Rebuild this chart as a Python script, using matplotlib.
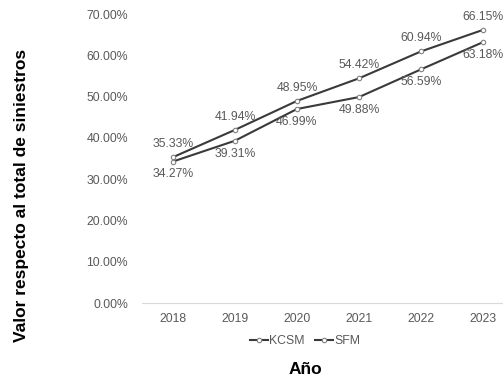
import matplotlib.pyplot as plt

plt.rcParams['font.family'] = ['Liberation Sans', 'DejaVu Sans']

# Share of total claims per year
years = ['2018', '2019', '2020', '2021', '2022', '2023']
kcsm = [35.33, 41.94, 48.95, 54.42, 60.94, 66.15]
sfm = [34.27, 39.31, 46.99, 49.88, 56.59, 63.18]
yticks = [0, 10, 20, 30, 40, 50, 60, 70]

W, H = 503, 385
fig = plt.figure(figsize=(W / 100, H / 100), dpi=100)
ax = fig.add_axes([142 / W, 82 / H, (514 - 142) / W, (303 - 14) / H])

x = range(len(years))
line_kw = dict(color='#3a3a3a', linewidth=1.5, marker='o', markersize=3.2,
               markerfacecolor='white', markeredgecolor='#808080',
               markeredgewidth=0.8)
ax.plot(x, kcsm, label='KCSM', **line_kw)
ax.plot(x, sfm, label='SFM', **line_kw)

label_kw = dict(ha='center', fontsize=8.8, color='#595959',
                textcoords='offset points')
for xi, v in zip(x, kcsm):
    ax.annotate(f'{v:.2f}%', (xi, v), xytext=(0, 5), va='bottom', **label_kw)
for xi, v in zip(x, sfm):
    ax.annotate(f'{v:.2f}%', (xi, v), xytext=(0, -5), va='top', **label_kw)

ax.set_xlim(-0.5, 5.5)
ax.set_ylim(0, 70)
ax.set_xticks(list(x))
ax.set_xticklabels(years)
ax.set_yticks(yticks)
ax.set_yticklabels([f'{t:.2f}%' for t in yticks])
ax.tick_params(length=0, labelsize=8.8, colors='#595959')
ax.tick_params(axis='x', pad=7)
ax.tick_params(axis='y', pad=10)
for side in ['top', 'right', 'left']:
    ax.spines[side].set_visible(False)
ax.spines['bottom'].set_color('#d9d9d9')
ax.spines['bottom'].set_linewidth(0.8)

leg = ax.legend(loc='center', bbox_to_anchor=(305 / W, 1 - 341 / H),
                bbox_transform=fig.transFigure, ncol=2, frameon=False,
                fontsize=8.8, handlelength=1.5, handletextpad=0.1,
                columnspacing=0.8, borderaxespad=0, borderpad=0)
for t in leg.get_texts():
    t.set_color('#595959')

fig.text(22 / W, 1 - 195 / H, 'Valor respecto al total de siniestros',
         rotation=90, ha='center', va='center', fontsize=12.5,
         fontweight='bold', color='black')
fig.text(305 / W, 1 - 370 / H, 'Año', ha='center', va='center',
         fontsize=12.5, fontweight='bold', color='black')

fig.savefig('out.png', dpi=100)
